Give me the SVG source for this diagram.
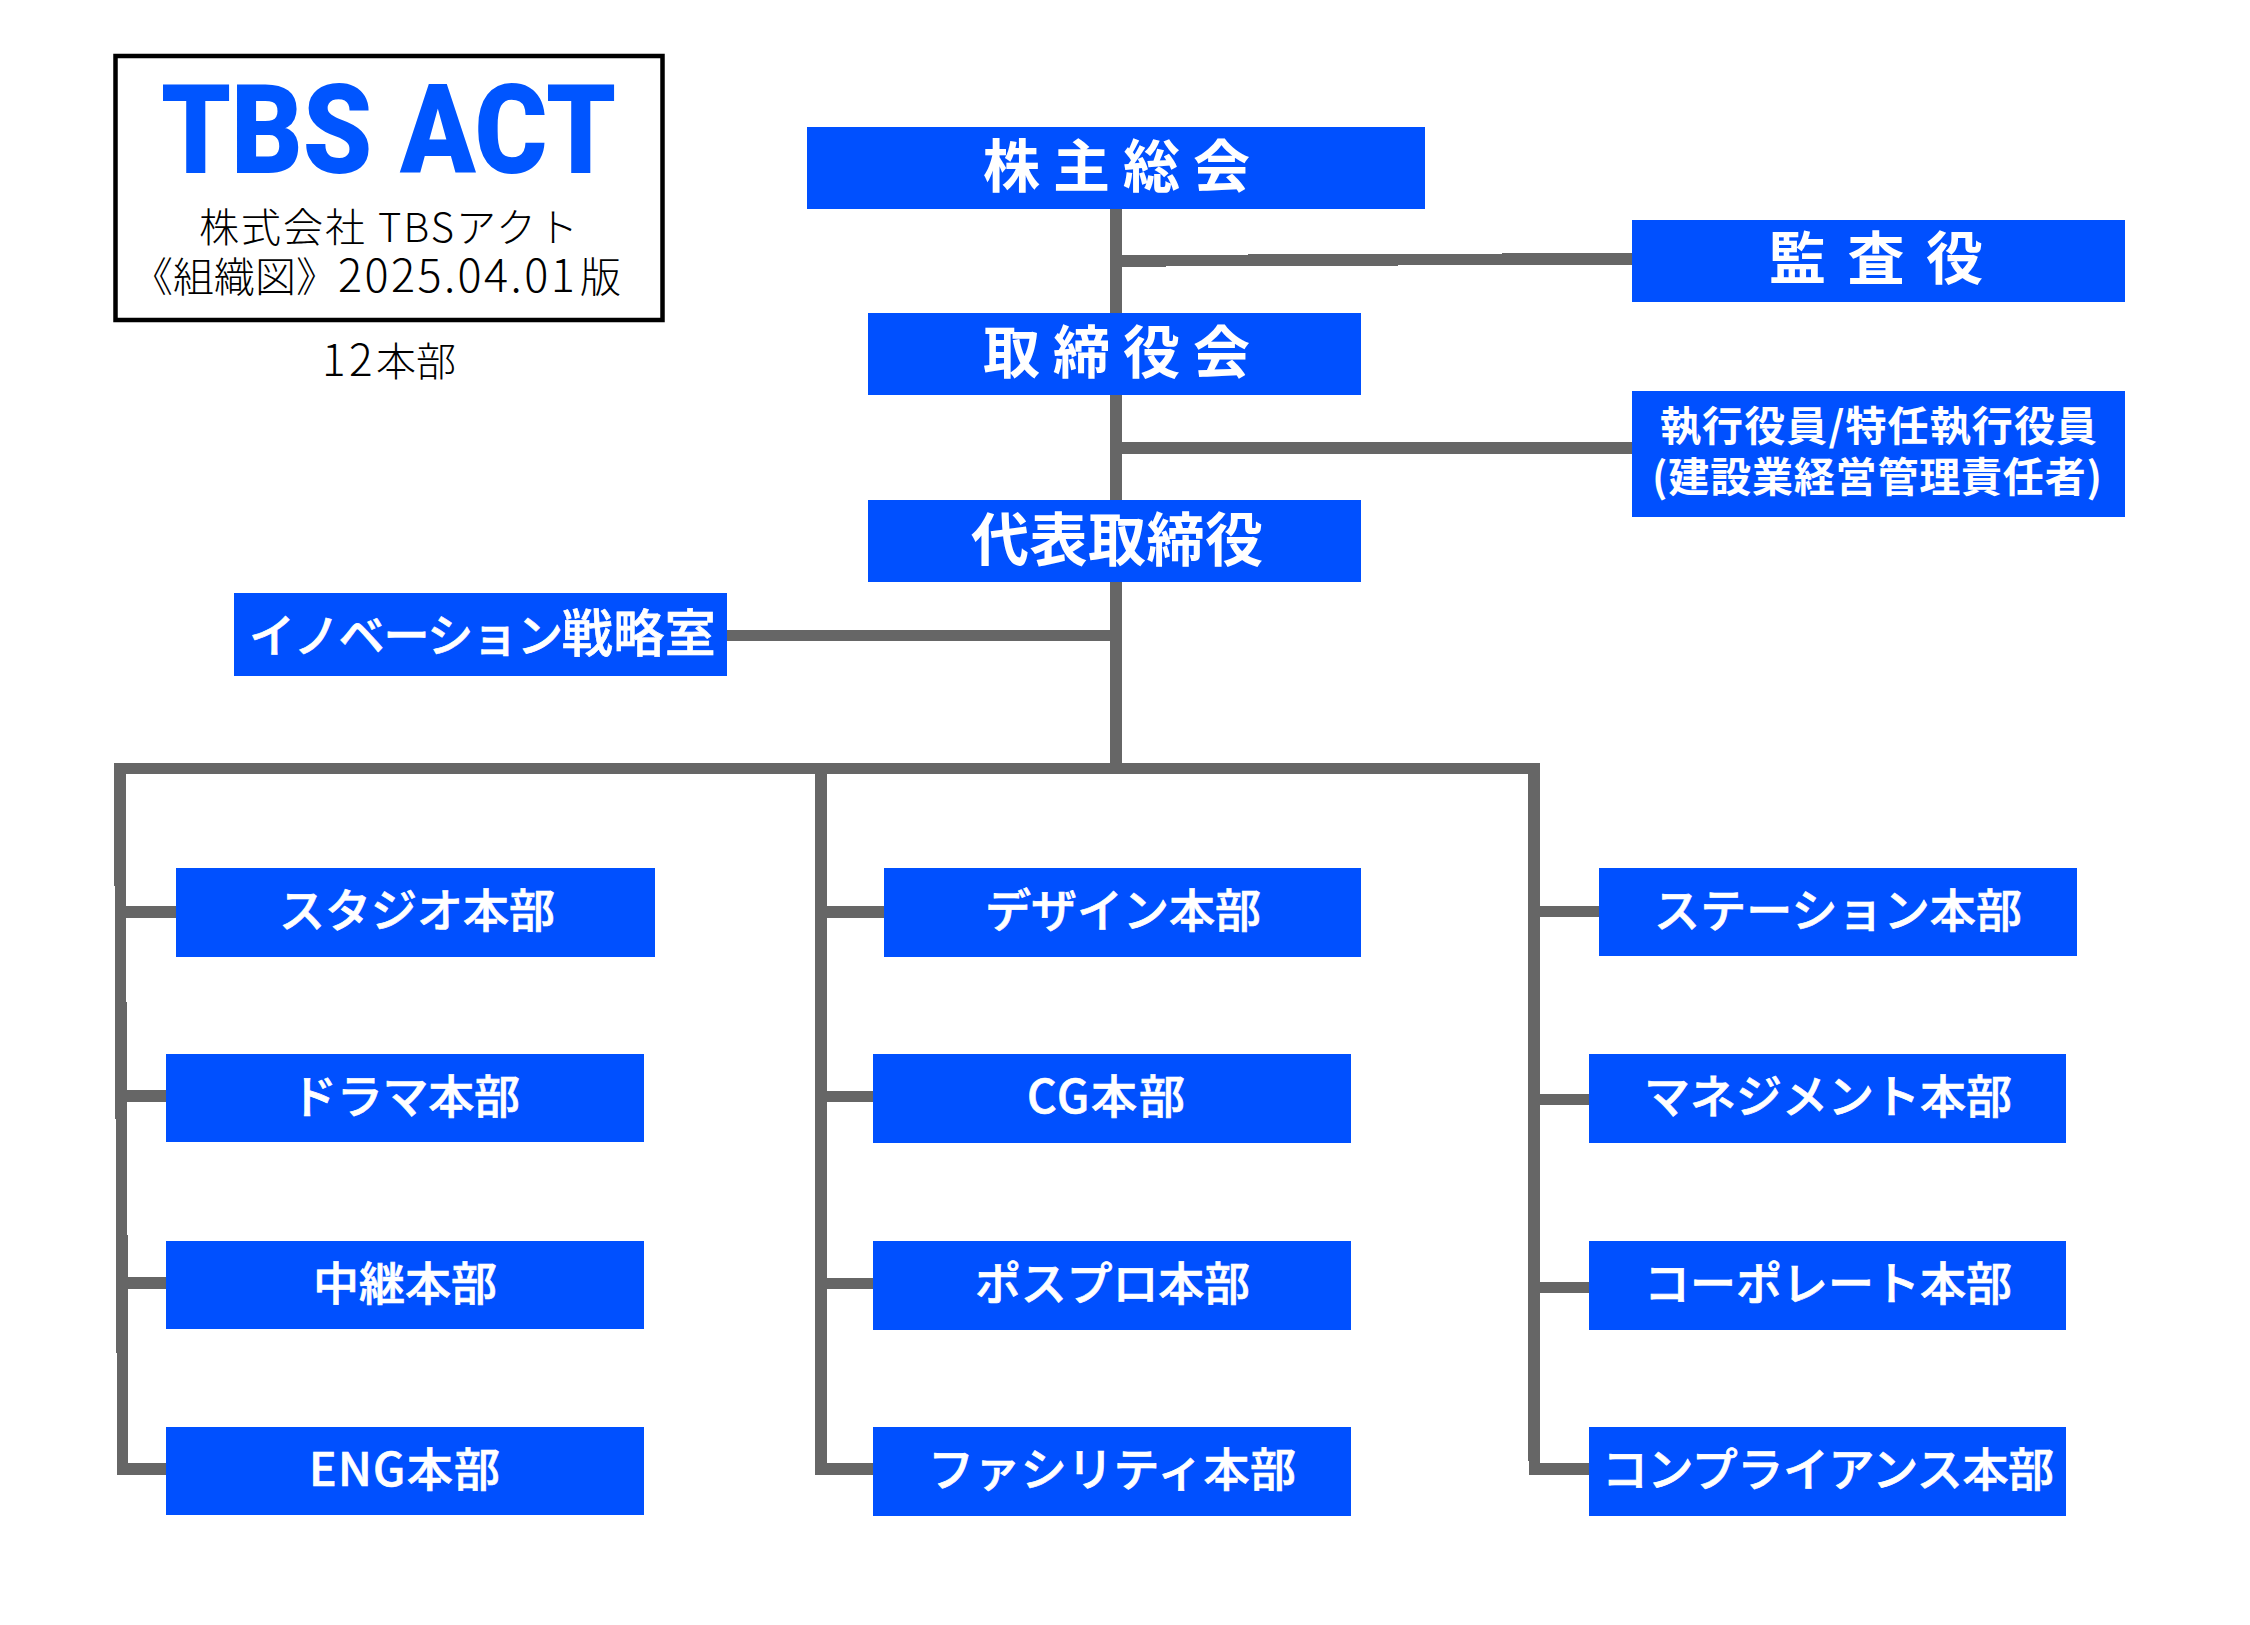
<svg xmlns="http://www.w3.org/2000/svg" width="2250" height="1625" viewBox="0 0 2250 1625">
<style>
text{font-family:"Noto Sans CJK JP","Noto Sans",sans-serif}
.b{fill:#0050ff;shape-rendering:crispEdges}
.c rect,.c polygon{fill:#666666;shape-rendering:crispEdges}
.t{fill:#fff;font-weight:700}
.h{font-size:57px}
.s{font-size:46px;font-weight:500;stroke:#fff;stroke-width:0.7px}
.e{font-size:41px}
.k{fill:#000;font-weight:300;font-size:40px}
</style>
<rect width="2250" height="1625" fill="#fff"/>
<g id="connectors" class="c">
<rect x="1110" y="209" width="12" height="565"/>
<polygon points="1122,255 1632,253 1632,264.5 1122,266.7"/>
<rect x="1122" y="442" width="510" height="12"/>
<rect x="727" y="630" width="383" height="11"/>
<rect x="114" y="763" width="1426" height="11"/>
<rect x="114" y="763" width="12" height="123"/>
<rect x="115" y="886" width="11" height="116"/>
<rect x="115" y="1002" width="12" height="117"/>
<rect x="116" y="1119" width="11" height="116"/>
<rect x="116" y="1235" width="12" height="118"/>
<rect x="117" y="1353" width="11" height="122"/>
<rect x="126" y="906" width="50" height="12"/>
<rect x="126" y="1090" width="40" height="12"/>
<rect x="128" y="1277" width="38" height="12"/>
<rect x="128" y="1463" width="38" height="12"/>
<rect x="815" y="763" width="12" height="712"/>
<rect x="827" y="906" width="57" height="12"/>
<rect x="827" y="1091" width="46" height="11"/>
<rect x="827" y="1278" width="46" height="11"/>
<rect x="827" y="1463" width="46" height="12"/>
<rect x="1528" y="763" width="12" height="698"/>
<rect x="1529" y="1461" width="11" height="14"/>
<rect x="1540" y="906" width="59" height="11"/>
<rect x="1540" y="1094" width="49" height="11"/>
<rect x="1540" y="1282" width="49" height="11"/>
<rect x="1540" y="1463" width="49" height="12"/>
</g>
<g id="title">
<rect x="115.5" y="56" width="547" height="264" fill="#fff" stroke="#000" stroke-width="4.5"/>
<text x="161" y="173" textLength="455" lengthAdjust="spacingAndGlyphs" style="font-family:Roboto,'Liberation Sans',sans-serif;font-weight:900;font-size:124px;fill:#0055ff">TBS ACT</text>
<text class="k" x="199" y="242" textLength="379">株式会社 TBSアクト</text>
<text class="k" y="292" style="font-size:41px"><tspan x="132">《組織図》 </tspan><tspan x="338" style="font-size:45px" letter-spacing="2.4">2025.04.01</tspan><tspan x="580">版</tspan></text>
<text class="k" x="322" y="376"><tspan style="font-size:44px" letter-spacing="3.5">12</tspan>本部</text>
</g>
<g id="n-soukai"><rect class="b" x="807" y="127" width="618" height="82"/><text class="t h" x="983" y="187" textLength="267">株主総会</text></g>
<g id="n-kansa"><rect class="b" x="1632" y="220" width="493" height="82"/><text class="t h" x="1769" y="279" textLength="214">監査役</text></g>
<g id="n-torishimariyakukai"><rect class="b" x="868" y="313" width="493" height="82"/><text class="t h" x="983" y="373" textLength="267">取締役会</text></g>
<g id="n-shikko"><rect class="b" x="1632" y="391" width="493" height="126"/><text class="t e" x="1660" y="441" textLength="437">執行役員/特任執行役員</text><text class="t e" x="1652" y="492" textLength="450">(建設業経営管理責任者)</text></g>
<g id="n-daihyo"><rect class="b" x="868" y="500" width="493" height="82"/><text class="t" x="971" y="561" textLength="292" style="font-size:58px">代表取締役</text></g>
<g id="n-innovation"><rect class="b" x="234" y="593" width="493" height="83"/><text class="t s" x="249" y="652"><tspan letter-spacing="-1.2">イノベーション</tspan><tspan style="font-size:51px" letter-spacing="0.5">戦略室</tspan></text></g>
<g id="n-studio"><rect class="b" x="176" y="868" width="479" height="89"/><text class="t s" x="279" y="927" textLength="276">スタジオ本部</text></g>
<g id="n-drama"><rect class="b" x="166" y="1054" width="478" height="88"/><text class="t s" x="291" y="1113" textLength="229">ドラマ本部</text></g>
<g id="n-chukei"><rect class="b" x="166" y="1241" width="478" height="88"/><text class="t s" x="313" y="1300" textLength="184">中継本部</text></g>
<g id="n-eng"><rect class="b" x="166" y="1427" width="478" height="88"/><text class="t s" x="309" y="1486" textLength="191">ENG本部</text></g>
<g id="n-design"><rect class="b" x="884" y="868" width="477" height="89"/><text class="t s" x="985" y="927" textLength="276">デザイン本部</text></g>
<g id="n-cg"><rect class="b" x="873" y="1054" width="478" height="89"/><text class="t s" x="1027" y="1113" textLength="158">CG本部</text></g>
<g id="n-pospro"><rect class="b" x="873" y="1241" width="478" height="89"/><text class="t s" x="975" y="1300" textLength="275">ポスプロ本部</text></g>
<g id="n-facility"><rect class="b" x="873" y="1427" width="478" height="89"/><text class="t s" x="928" y="1486" textLength="368">ファシリティ本部</text></g>
<g id="n-station"><rect class="b" x="1599" y="868" width="478" height="88"/><text class="t s" x="1654" y="927" textLength="368">ステーション本部</text></g>
<g id="n-management"><rect class="b" x="1589" y="1054" width="477" height="89"/><text class="t s" x="1644" y="1113" textLength="368">マネジメント本部</text></g>
<g id="n-corporate"><rect class="b" x="1589" y="1241" width="477" height="89"/><text class="t s" x="1644" y="1300" textLength="368">コーポレート本部</text></g>
<g id="n-compliance"><rect class="b" x="1589" y="1427" width="477" height="89"/><text class="t s" x="1602" y="1486" textLength="452">コンプライアンス本部</text></g>
</svg>
